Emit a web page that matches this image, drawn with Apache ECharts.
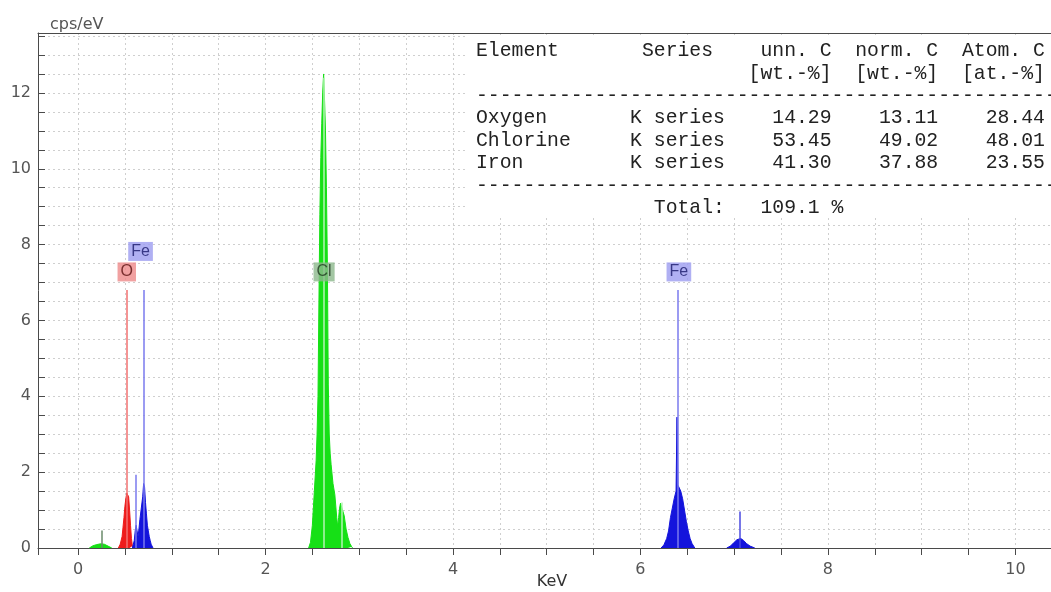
<!DOCTYPE html>
<html><head><meta charset="utf-8">
<script src="https://cdn.jsdelivr.net/npm/echarts@6/dist/echarts.min.js"></script>
<style>html,body{margin:0;padding:0;background:#fff}#c{width:1051px;height:592px}</style>
</head><body><div id="c"></div>
<script>
// ---- axis extents and tick labels ----
const xRange = [-0.427, 10.38];
const yRange = [0, 13.58];
const xLabelStep = 2;
const yLabelStep = 2;
const xAxisTitle = 'KeV';
const yAxisTitle = 'cps/eV';

// ---- spectra: [energy keV, cps/eV] ----
const greenSpectrum = [
  [0.12,0],[0.14,0.03],[0.16,0.06],[0.18,0.08],[0.20,0.09],[0.22,0.1],[0.24,0.11],[0.26,0.11],[0.28,0.1],[0.30,0.08],[0.32,0.05],[0.34,0.02],[0.36,0],
  [1.0,null],
  [2.46,0],[2.48,0.15],[2.50,0.6],[2.52,1.45],[2.54,2.3],[2.55,3.0],[2.56,4.0],[2.57,6.5],[2.58,8.8],[2.59,10.3],[2.60,11.2],[2.61,12.0],[2.62,12.5],[2.63,11.8],[2.64,11.0],[2.65,9.5],[2.66,7.5],[2.67,4.3],[2.68,3.0],[2.69,2.5],[2.70,2.2],[2.72,1.7],[2.74,1.4],[2.76,0.8],[2.77,0.56],[2.78,0.8],[2.79,1.05],[2.80,1.18],[2.81,1.22],[2.82,1.15],[2.84,0.85],[2.86,0.5],[2.88,0.28],[2.90,0.12],[2.92,0.03],[2.93,0]
];
const redSpectrum = [
  [0.43,0],[0.45,0.1],[0.47,0.3],[0.48,0.55],[0.49,0.8],[0.50,1.1],[0.51,1.3],[0.52,1.45],[0.53,1.48],[0.54,1.35],[0.55,1.0],[0.56,0.6],[0.57,0.25],[0.58,0.05],[0.59,0]
];
const blueSpectrum = [
  [0.58,0],[0.60,0.2],[0.61,0.45],[0.62,0.6],[0.63,0.45],[0.64,0.3],[0.65,0.5],[0.66,0.75],[0.67,0.95],[0.68,1.0],[0.69,1.35],[0.70,1.7],[0.71,1.6],[0.72,1.2],[0.73,0.9],[0.74,0.6],[0.75,0.45],[0.76,0.3],[0.77,0.2],[0.78,0.1],[0.80,0],
  [3.0,null],
  [6.22,0],[6.25,0.08],[6.28,0.25],[6.30,0.45],[6.32,0.8],[6.34,1.05],[6.36,1.3],[6.38,1.5],[6.39,3.45],[6.40,1.66],[6.41,1.62],[6.43,1.5],[6.45,1.3],[6.47,1.0],[6.49,0.7],[6.51,0.45],[6.53,0.25],[6.55,0.12],[6.58,0],
  [6.8,null],
  [6.92,0],[6.96,0.05],[7.00,0.15],[7.03,0.22],[7.05,0.26],[7.07,0.25],[7.10,0.2],[7.13,0.12],[7.17,0.05],[7.22,0]
];

// ---- element marker lines: [energy, top] ----
const lowLines = [[0.253,0.46]];
const clLines = [[2.617,12.4],[2.815,1.2]];
const oLines = [[0.523,6.8]];
const feLines = [[0.612,1.93],[0.703,6.8],[6.40,6.8]];
const feKbLines = [[7.06,0.96]];

// ---- peak labels ----
const peakLabelText = ['O','Fe','Cl','Fe'];
const peakLabelX = [0.52,0.667,2.625,6.41];
const peakLabelY = [7.28,7.82,7.28,7.28];

// ---- quantification table ----
const tableHead1 = ['Element','Series','unn. C','norm. C','Atom. C'];
const tableHead2 = ['[wt.-%]','[wt.-%]','[at.-%]'];
const elementNames = ['Oxygen','Chlorine','Iron'];
const seriesNames = ['K series','K series','K series'];
const unnC = [14.29,53.45,41.30];
const normC = [13.11,49.02,37.88];
const atomC = [28.44,48.01,23.55];
const totalLabel = 'Total:';
const totalValue = 109.1;

// ---- styles ----
const labelStyles = {
  O:  {bg:'#ee8a8a', fg:'#5a1010'},
  Fe: {bg:'#9c9cf0', fg:'#1a1a6a'},
  Cl: {bg:'#8cb88c', fg:'#1e3a1e'}
};
const axisColor = '#4a4a4a';
const textColor = '#555';

function markLines(lines, color){
  return {
    silent:true, symbol:['none','none'], animation:false,
    label:{show:false},
    lineStyle:{type:'solid', width:1.5, color:color, opacity:1},
    emphasis:{disabled:true},
    data: lines.map(l => [
      {coord:[l[0],0], lineStyle:{type:'solid', width:1.5, color:color, opacity:1}},
      {coord:[l[0],l[1]]}
    ])
  };
}
function isStep(v, step){ return Math.abs(v/step - Math.round(v/step)) < 1e-6; }

const tableLines = [];
tableLines.push(tableHead1[0].padEnd(14) + tableHead1[1] + tableHead1[2].padStart(10) + tableHead1[3].padStart(9) + tableHead1[4].padStart(9));
tableLines.push(''.padEnd(23) + tableHead2[0] + tableHead2[1].padStart(9) + tableHead2[2].padStart(9));
tableLines.push('-'.repeat(52));
for (let i=0;i<elementNames.length;i++){
  tableLines.push(elementNames[i].padEnd(13) + seriesNames[i] + unnC[i].toFixed(2).padStart(9) + normC[i].toFixed(2).padStart(9) + atomC[i].toFixed(2).padStart(9));
}
tableLines.push('-'.repeat(52));
tableLines.push(''.padEnd(15) + totalLabel + '   ' + totalValue.toFixed(1) + ' %');

const tableGraphics = [{
  type:'rect', z:1, silent:true,
  shape:{x:468, y:35, width:600, height:183},
  style:{fill:'#fff'}
}];
tableLines.forEach((t,i)=>{
  tableGraphics.push({
    type:'text', z:10, silent:true,
    style:{text:t, x:476, y:51 + i*22.4, fill:'#222', font:'19.75px "Liberation Mono"', verticalAlign:'middle', align:'left'}
  });
});
tableGraphics.push({
  type:'text', z:10, silent:true,
  style:{text:yAxisTitle, x:50, y:25, fill:textColor, font:'16px "DejaVu Sans"', verticalAlign:'middle', align:'left'}
});
tableGraphics.push({
  type:'text', z:10, silent:true,
  style:{text:xAxisTitle, x:552, y:582, fill:'#333', font:'16px "DejaVu Sans"', verticalAlign:'middle', align:'center'}
});

const labelData = peakLabelText.map((t,i)=>({
  value:[peakLabelX[i], peakLabelY[i]],
  label:{formatter:t, backgroundColor:labelStyles[t].bg, color:labelStyles[t].fg}
}));

const chart = echarts.init(document.getElementById('c'), null, {renderer:'canvas'});
chart.setOption({
  animation:false,
  backgroundColor:'#fff',
  grid:{left:38, right:0, top:33, bottom:44, containLabel:false, outerBoundsMode:'none'},
  xAxis:[{
    type:'value', min:xRange[0], max:xRange[1], splitNumber:22, minInterval:0.5, maxInterval:0.5,
    axisLine:{show:true, onZero:false, lineStyle:{color:axisColor, width:1}},
    axisTick:{show:true, inside:false, length:7, lineStyle:{color:axisColor}},
    axisLabel:{margin:14, color:textColor, fontFamily:'DejaVu Sans', fontSize:16,
      formatter:v => isStep(v, xLabelStep) ? String(Math.round(v)) : '', showMinLabel:true, showMaxLabel:true},
    splitLine:{show:true, lineStyle:{type:[2,3], color:'#cfcfcf', width:1}}
  },{
    type:'value', position:'top', min:xRange[0], max:xRange[1],
    axisLine:{show:true, onZero:false, lineStyle:{color:axisColor, width:1}},
    axisTick:{show:false}, axisLabel:{show:false}, splitLine:{show:false}
  }],
  yAxis:{
    type:'value', min:yRange[0], max:yRange[1], interval:0.5,
    axisLine:{show:true, onZero:false, lineStyle:{color:axisColor, width:1}},
    axisTick:{show:true, inside:true, length:7, lineStyle:{color:axisColor}},
    axisLabel:{margin:7, color:textColor, fontFamily:'DejaVu Sans', fontSize:16,
      formatter:v => isStep(v, yLabelStep) ? String(Math.round(v)) : ''},
    splitLine:{show:true, lineStyle:{type:[2,3], color:'#cfcfcf', width:1}}
  },
  graphic:tableGraphics,
  series:[
    {type:'line', name:'O', data:redSpectrum, showSymbol:false, symbol:'none', z:3,
      lineStyle:{color:'#ee1c1c', width:1}, areaStyle:{color:'#ee1c1c', opacity:1},
      markLine:markLines(oLines,'#f07070')},
    {type:'line', name:'Fe', data:blueSpectrum, showSymbol:false, symbol:'none', z:4,
      lineStyle:{color:'#1414dc', width:1}, areaStyle:{color:'#1414dc', opacity:1},
      markLine:markLines(feLines,'#7a7aee')},
    {type:'line', name:'FeKb', data:[], z:4, markLine:markLines(feKbLines,'#4a4ae0')},
    {type:'line', name:'Cl', data:greenSpectrum, showSymbol:false, symbol:'none', z:3,
      lineStyle:{color:'#16e016', width:1}, areaStyle:{color:'#16e016', opacity:1},
      markLine:markLines(clLines,'#b4f4b4')},
    {type:'line', name:'low', data:[], z:4, markLine:markLines(lowLines,'#6a8a6a')},
    {type:'scatter', name:'labels', data:labelData, symbolSize:0, z:6, silent:true,
      label:{show:true, position:'inside', fontFamily:'Liberation Sans', fontSize:16, padding:[2,3,1,3], lineHeight:16}}
  ]
});
</script>
</body></html>
